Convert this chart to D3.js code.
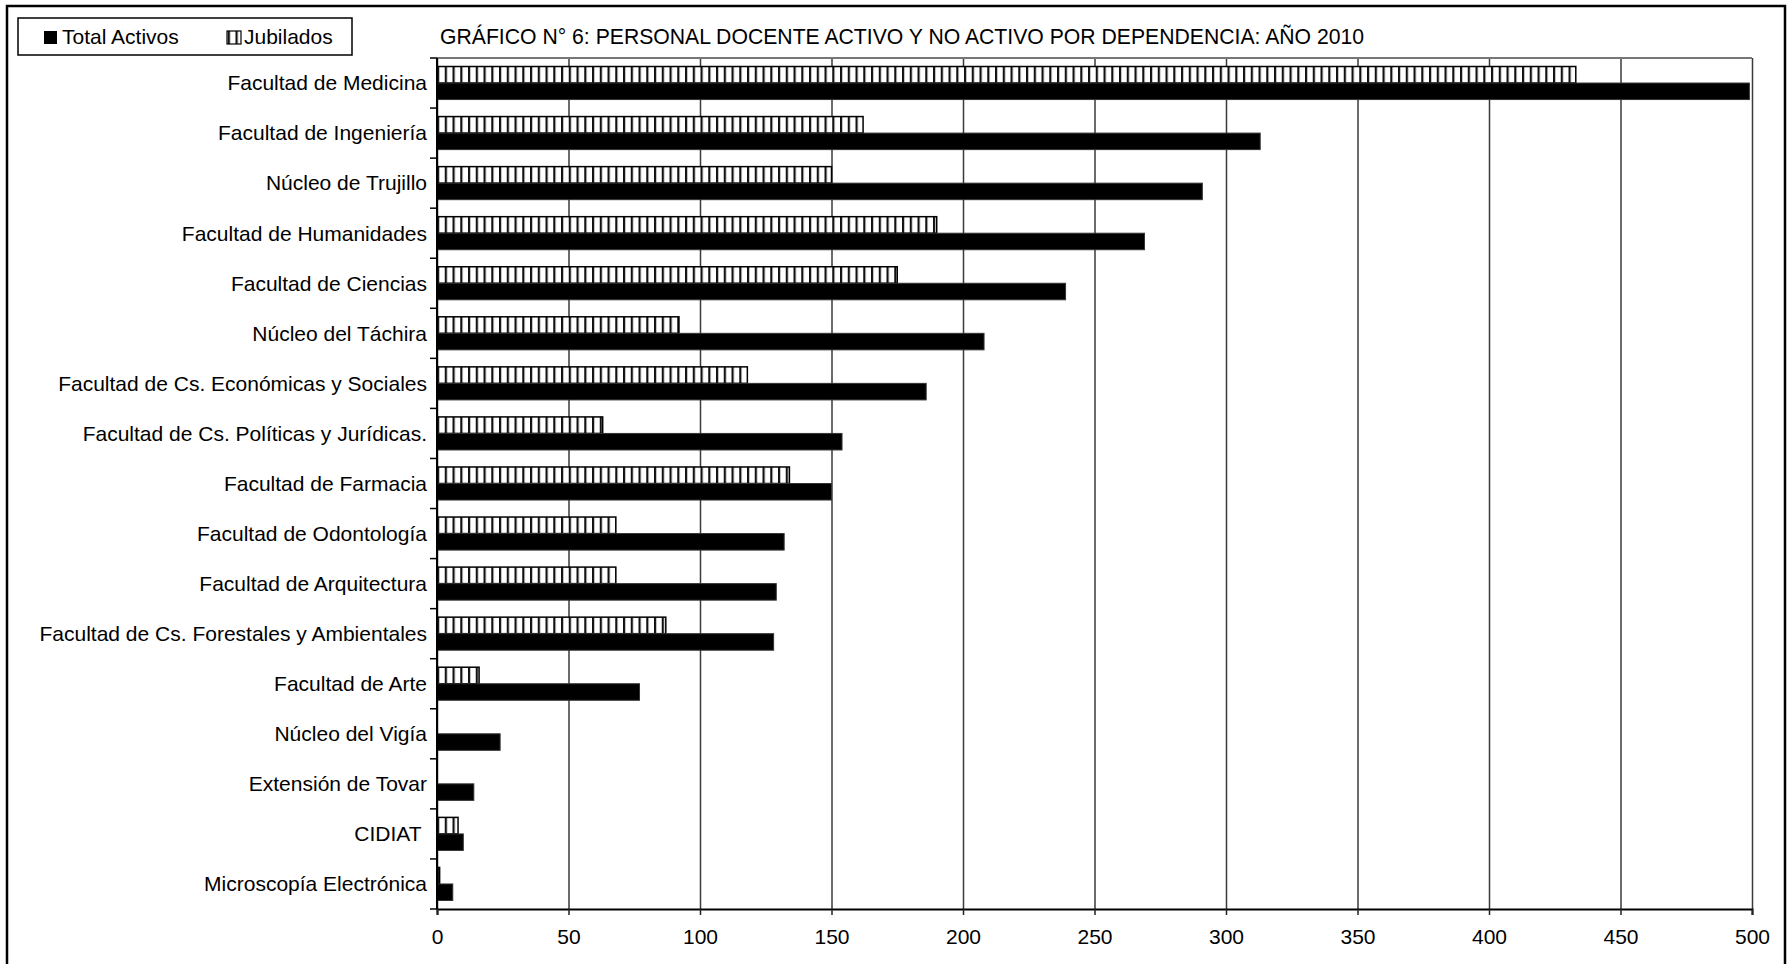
<!DOCTYPE html>
<html>
<head>
<meta charset="utf-8">
<script src="https://cdn.jsdelivr.net/npm/d3@7"></script>
<style>
  body { margin: 0; background: #fff; }
  svg { display: block; font-family: "Liberation Sans", Arial, sans-serif; }
  text { white-space: pre; }
</style>
</head>
<body>
<svg width="1789" height="964"></svg>
<script>
// dependencias, de arriba hacia abajo
var categories = [
  "Facultad de Medicina",
  "Facultad de Ingeniería",
  "Núcleo de Trujillo",
  "Facultad de Humanidades",
  "Facultad de Ciencias",
  "Núcleo del Táchira",
  "Facultad de Cs. Económicas y Sociales",
  "Facultad de Cs. Políticas y Jurídicas.",
  "Facultad de Farmacia",
  "Facultad de Odontología",
  "Facultad de Arquitectura",
  "Facultad de Cs. Forestales y Ambientales",
  "Facultad de Arte",
  "Núcleo del Vigía",
  "Extensión de Tovar",
  "CIDIAT ",
  "Microscopía Electrónica"
];

var jubilados = [433, 162, 150, 190, 175, 92, 118, 63, 134, 68, 68, 87, 16, 0, 0, 8, 1];
var activos   = [499, 313, 291, 269, 239, 208, 186, 154, 150, 132, 129, 128, 77, 24, 14, 10, 6];

var series = ["Jubilados", "Total Activos"];
var xTicks = [0, 50, 100, 150, 200, 250, 300, 350, 400, 450, 500];

var title = "GRÁFICO N° 6: PERSONAL DOCENTE ACTIVO Y NO ACTIVO POR DEPENDENCIA: AÑO 2010";

var svg = d3.select("svg");
var plotLeft = 437, plotRight = 1752, plotTop = 58, plotBottom = 909;
var fontSize = 21;

// patrón de rayas verticales para Jubilados
var defs = svg.append("defs");
var pat = defs.append("pattern")
  .attr("id", "vstripe")
  .attr("patternUnits", "userSpaceOnUse")
  .attr("x", plotLeft)
  .attr("width", 7.75)
  .attr("height", 10);
pat.append("rect").attr("width", 7.75).attr("height", 10).attr("fill", "#fff");
pat.append("rect").attr("x", 0).attr("width", 2.2).attr("height", 10).attr("fill", "#111");

// marco exterior
svg.append("rect")
  .attr("x", 7).attr("y", 6)
  .attr("width", 1778).attr("height", 980)
  .attr("fill", "none")
  .attr("stroke", "#000")
  .attr("stroke-width", 2.5);

var x = d3.scaleLinear().domain([0, 500]).range([plotLeft, plotRight]);
var y = d3.scaleBand().domain(categories).range([plotTop, plotBottom]).paddingInner(0).paddingOuter(0);
var ySub = d3.scaleBand().domain(series).range([0, y.bandwidth()]).paddingOuter(0.515).paddingInner(0);

// líneas de cuadrícula
var grid = svg.append("g")
  .attr("transform", "translate(0," + plotBottom + ")")
  .call(d3.axisBottom(x).tickValues(xTicks).tickSize(-(plotBottom - plotTop)).tickFormat(""));
grid.select(".domain").remove();
grid.selectAll("line").attr("stroke", "#3a3a3a").attr("stroke-width", 1.5);

// borde superior del área de trazado
svg.append("line")
  .attr("x1", plotLeft).attr("x2", plotRight)
  .attr("y1", plotTop).attr("y2", plotTop)
  .attr("stroke", "#777").attr("stroke-width", 2);

// barras
var rows = categories.map(function(c, i) {
  return { cat: c, Jubilados: jubilados[i], "Total Activos": activos[i] };
});

var groups = svg.append("g")
  .selectAll("g")
  .data(rows)
  .enter().append("g")
  .attr("transform", function(d) { return "translate(0," + y(d.cat) + ")"; });

groups.append("rect")
  .attr("x", x(0))
  .attr("y", ySub("Jubilados"))
  .attr("width", function(d) { return x(d.Jubilados) - x(0); })
  .attr("height", ySub.bandwidth())
  .attr("fill", "url(#vstripe)")
  .attr("stroke", function(d) { return d.Jubilados > 0 ? "#000" : "none"; })
  .attr("stroke-width", 1.5);

groups.append("rect")
  .attr("x", x(0))
  .attr("y", ySub("Total Activos"))
  .attr("width", function(d) { return x(d["Total Activos"]) - x(0); })
  .attr("height", ySub.bandwidth())
  .attr("fill", "#000")
  .attr("stroke", "#333")
  .attr("stroke-width", 1);

// eje X
var xAxis = svg.append("g")
  .attr("transform", "translate(0," + plotBottom + ")")
  .call(d3.axisBottom(x).tickValues(xTicks).tickSize(6).tickPadding(14));
xAxis.select(".domain").attr("stroke", "#000").attr("stroke-width", 2);
xAxis.selectAll("line").attr("stroke", "#222").attr("stroke-width", 1.5);
xAxis.selectAll("text")
  .attr("font-size", fontSize)
  .attr("font-family", "Liberation Sans, Arial, sans-serif")
  .attr("fill", "#000");

// eje Y: línea y marcas entre categorías
svg.append("line")
  .attr("x1", plotLeft).attr("x2", plotLeft)
  .attr("y1", plotTop).attr("y2", plotBottom)
  .attr("stroke", "#000").attr("stroke-width", 2);

var bounds = categories.map(function(c) { return y(c); }).concat([plotBottom]);
svg.append("g")
  .selectAll("line")
  .data(bounds)
  .enter().append("line")
  .attr("x1", plotLeft - 7).attr("x2", plotLeft)
  .attr("y1", function(d) { return d; })
  .attr("y2", function(d) { return d; })
  .attr("stroke", "#000").attr("stroke-width", 1.5);

svg.append("g")
  .selectAll("text")
  .data(categories)
  .enter().append("text")
  .attr("x", plotLeft - 10)
  .attr("y", function(d) { return y(d) + y.bandwidth() / 2; })
  .attr("dy", "0.35em")
  .attr("text-anchor", "end")
  .attr("font-size", fontSize)
  .text(function(d) { return d; });

// título
svg.append("text")
  .attr("x", 440)
  .attr("y", 44)
  .attr("font-size", 21.2)
  .text(title);

// leyenda
var legend = svg.append("g");
legend.append("rect")
  .attr("x", 18).attr("y", 18)
  .attr("width", 334).attr("height", 37)
  .attr("fill", "#fff")
  .attr("stroke", "#000")
  .attr("stroke-width", 1.5);

legend.append("rect")
  .attr("x", 44).attr("y", 31)
  .attr("width", 13).attr("height", 13)
  .attr("fill", "#000");
legend.append("text")
  .attr("x", 62).attr("y", 44)
  .attr("font-size", 21)
  .text("Total Activos");

legend.append("rect")
  .attr("x", 227).attr("y", 31)
  .attr("width", 14).attr("height", 13)
  .attr("fill", "url(#vstripe)")
  .attr("stroke", "#000")
  .attr("stroke-width", 1.2);
legend.append("text")
  .attr("x", 244).attr("y", 44)
  .attr("font-size", 21)
  .text("Jubilados");
</script>
</body>
</html>
